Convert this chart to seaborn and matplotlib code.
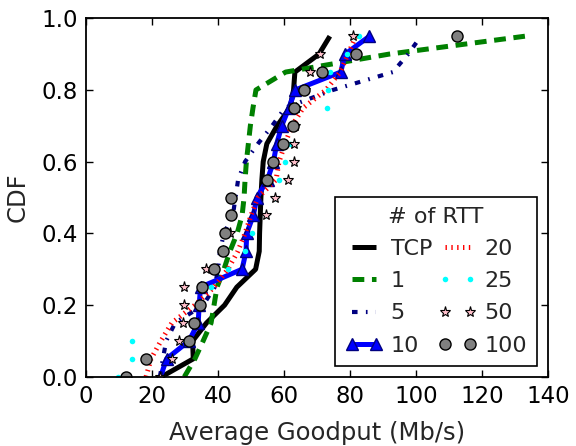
import matplotlib
matplotlib.use("Agg")
import matplotlib.pyplot as plt
import seaborn as sns
import numpy as np

# CDF levels (20 samples per series)
cdf = [round(i * 0.05, 2) for i in range(20)]

labels = ["TCP", "1", "5", "10", "20", "25", "50", "100"]

tcp = [22.9, 32.5, 32.3, 36.5, 42.0, 45.7, 51.4, 52.5, 52.6, 52.8,
       53.0, 53.3, 53.7, 54.8, 57.9, 61.8, 62.9, 63.3, 70.6, 73.9]
rtt1 = [29.8, 33.0, 35.5, 37.9, 38.8, 39.7, 41.8, 43.6, 45.8, 47.3,
        47.9, 48.2, 48.6, 49.2, 49.8, 50.6, 51.5, 60.5, 91.8, 133.0]
rtt5 = [22.4, 23.3, 24.3, 27.0, 35.5, 39.0, 40.0, 40.6, 41.8, 44.5,
        45.3, 46.1, 48.2, 52.1, 56.4, 60.3, 74.8, 93.0, 97.6, 101.5]
rtt10 = [22.6, 24.4, 31.2, 34.0, 34.3, 34.7, 47.3, 48.5, 48.7, 50.7,
         51.8, 55.0, 56.8, 57.8, 59.3, 61.5, 63.4, 77.2, 78.5, 85.9]
rtt20 = [18.2, 19.7, 22.7, 26.0, 33.0, 38.8, 43.0, 46.0, 48.2, 50.0,
         52.1, 57.6, 58.5, 60.3, 62.4, 65.8, 72.7, 77.0, 79.4, 81.8]
rtt25 = [9.8, 13.8, 13.8, 32.8, 34.6, 37.8, 43.1, 48.2, 50.3, 54.5,
         57.2, 58.5, 60.3, 61.7, 62.8, 73.0, 73.4, 73.9, 79.0, 82.8]
rtt50 = [22.5, 26.2, 28.3, 29.3, 29.8, 29.8, 36.4, 41.6, 43.6, 54.5,
         57.3, 61.3, 63.0, 63.0, 63.3, 63.5, 66.3, 67.9, 70.9, 81.0]
rtt100 = [12.1, 18.1, 31.1, 32.6, 34.5, 35.2, 38.9, 41.4, 42.1, 43.9,
          43.9, 54.9, 56.7, 59.6, 62.8, 63.0, 66.1, 71.4, 81.8, 112.5]

xticks = [0, 20, 40, 60, 80, 100, 120, 140]
yticks = [0.0, 0.2, 0.4, 0.6, 0.8, 1.0]

sns.set_style("ticks")
plt.rcParams["font.family"] = ["DejaVu Sans"]
plt.rcParams["lines.scale_dashes"] = False
plt.rcParams["lines.solid_capstyle"] = "butt"
plt.rcParams["lines.dash_capstyle"] = "butt"

fig = plt.figure(figsize=(5.76, 4.46), dpi=100)
ax = fig.add_axes([0.1493, 0.1552, 0.8021, 0.8038])

styles = [
    dict(color="black", lw=3.6, ls="-"),
    dict(color="green", lw=3.6, ls=(0, (8.5, 5.5))),
    dict(color="navy", lw=3.0, ls=(0, (4, 6, 1.2, 6))),
    dict(color="blue", lw=3.6, ls="-", marker="^", markersize=8,
         markerfacecolor="blue", markeredgecolor="navy", markeredgewidth=1),
    dict(color="red", lw=3.6, ls=(0, (1, 3.2))),
    dict(color="cyan", ls="none", marker="o", markersize=4,
         markerfacecolor="cyan", markeredgecolor="none"),
    dict(color="pink", ls="none", marker="*", markersize=8,
         markerfacecolor="pink", markeredgecolor="black", markeredgewidth=0.8),
    dict(color="gray", ls="none", marker="o", markersize=8,
         markerfacecolor="gray", markeredgecolor="black", markeredgewidth=1),
]
data = [tcp, rtt1, rtt5, rtt10, rtt20, rtt25, rtt50, rtt100]

for name, vals, st in zip(labels, data, styles):
    sns.lineplot(x=vals, y=cdf, ax=ax, label=name, sort=False,
                 estimator=None, legend=False, **st)

ax.set_xlim(0, 140)
ax.set_ylim(0, 1.0)
ax.set_xticks(xticks)
ax.set_yticks(yticks)
ax.set_xticklabels([str(t) for t in xticks])
ax.set_yticklabels(["%.1f" % t for t in yticks])
ax.tick_params(direction="in", top=True, right=True, length=5, width=1,
               labelsize=16.5, pad=6, colors="black")
for s in ax.spines.values():
    s.set_color("black")
    s.set_linewidth(1.3)

ax.set_xlabel("Average Goodput (Mb/s)", fontsize=17.5, labelpad=9)
ax.set_ylabel("CDF", fontsize=17.5, labelpad=8)

handles, hl = ax.get_legend_handles_labels()
leg = ax.legend(handles, hl, loc="lower right", ncol=2, numpoints=2,
                title="# of RTT", fontsize=16, title_fontsize=16,
                handlelength=1.7, handletextpad=0.35, columnspacing=0.3,
                labelspacing=0.55, fancybox=False, framealpha=1,
                edgecolor="black", borderpad=0.45)
leg.get_frame().set_linewidth(1.2)

fig.savefig("out.png", dpi=100)
